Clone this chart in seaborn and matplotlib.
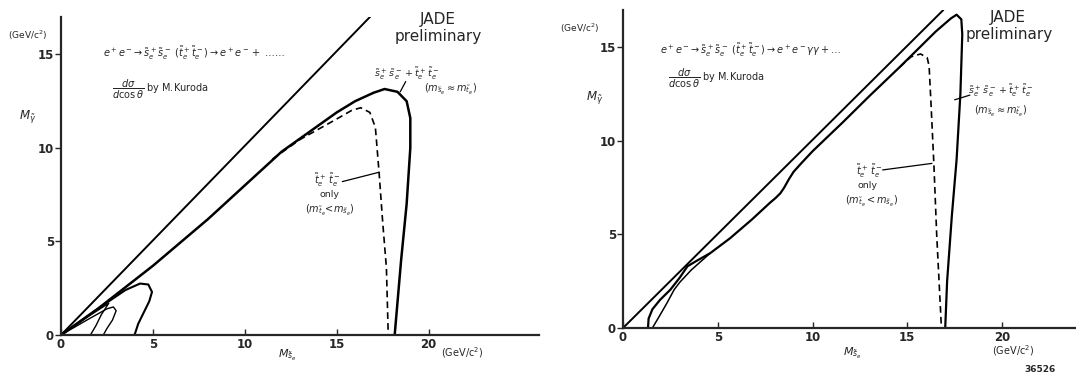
import matplotlib
matplotlib.use("Agg")
import matplotlib.pyplot as plt
import seaborn as sns
import pandas as pd

# ---- left panel curves ----
left_diag_x = [0, 17.0]
left_diag_y = [0, 17.2]

left_main_x = [0, 2, 5, 8, 10, 12, 14, 15, 16, 17, 17.6, 18.3, 18.8, 19.0, 19.0, 18.8, 18.5, 18.15]
left_main_y = [0, 1.4, 3.7, 6.2, 8.0, 9.8, 11.2, 11.9, 12.5, 12.95, 13.15, 13.0, 12.5, 11.6, 10.0, 7.0, 4.0, 0]

left_dash_x = [11.5, 12, 13, 14, 15, 15.8, 16.3, 16.8, 17.1, 17.3, 17.5, 17.7, 17.8]
left_dash_y = [9.4, 9.75, 10.45, 11.0, 11.55, 12.0, 12.15, 11.9, 11.1, 8.7, 6.0, 3.6, 0]

loop1_x = [0, 2, 3.5, 4.3, 4.75, 4.95, 4.8, 4.5, 4.2, 4.0]
loop1_y = [0, 1.4, 2.4, 2.75, 2.7, 2.3, 1.8, 1.2, 0.6, 0]
loop2_x = [0, 1.5, 2.5, 2.85, 3.0, 2.8, 2.5, 2.3]
loop2_y = [0, 0.85, 1.4, 1.5, 1.3, 0.8, 0.35, 0]
loop3_x = [0, 1.5, 2.6, 2.2, 1.9, 1.6]
loop3_y = [0, 1.0, 1.7, 1.1, 0.5, 0]

# ---- right panel curves ----
right_diag_x = [0, 16.9]
right_diag_y = [0, 17.0]

right_main_x = [1.32, 1.35, 1.55, 1.95, 2.5, 3.0, 3.4, 3.9, 4.6, 5.65, 6.8, 7.76, 8.05, 8.3, 8.5, 8.75,
                9.0, 9.4, 10, 11.6, 13, 14.6, 15, 16.5, 17.3, 17.6, 17.85, 17.9, 17.8, 17.6, 17.35, 17.1, 17.0]
right_main_y = [0, 0.5, 1.0, 1.5, 2.05, 2.7, 3.3, 3.6, 4.0, 4.8, 5.8, 6.7, 6.95, 7.2, 7.5, 7.95,
                8.35, 8.8, 9.45, 11.0, 12.4, 13.95, 14.35, 15.85, 16.55, 16.75, 16.5, 15.7, 12.5, 9.0, 6.0, 2.5, 0]

right_low_x = [1.55, 1.9, 2.3, 2.7, 3.0, 3.6, 4.6]
right_low_y = [0, 0.6, 1.3, 2.05, 2.45, 3.1, 4.0]

right_dash_x = [14.6, 15.2, 15.7, 16.05, 16.15, 16.25, 16.4, 16.55, 16.7, 16.8]
right_dash_y = [13.95, 14.5, 14.65, 14.45, 14.0, 12.0, 8.8, 5.0, 2.0, 0]

x_ticks = [0, 5, 10, 15, 20]
y_ticks = [0, 5, 10, 15]

sns.set_style("ticks")
plt.rcParams["font.family"] = ["DejaVu Sans"]

fig = plt.figure(figsize=(10.76, 3.76), dpi=100)
ax1 = fig.add_axes([61 / 1076, 41 / 376, 478 / 1076, 318 / 376])
ax2 = fig.add_axes([623 / 1076, 48 / 376, 453 / 1076, 318 / 376])


def curve(ax, xs, ys, lw=1.6, dashed=False):
    df = pd.DataFrame({"x": xs, "y": ys})
    line = sns.lineplot(data=df, x="x", y="y", sort=False, estimator=None,
                        color="black", lw=lw, ax=ax)
    if dashed:
        line.lines[-1].set_dashes((4, 2.5))


# left panel
curve(ax1, left_diag_x, left_diag_y, 1.4)
curve(ax1, left_main_x, left_main_y, 1.8)
curve(ax1, left_dash_x, left_dash_y, 1.2, dashed=True)
curve(ax1, loop1_x, loop1_y, 1.5)
curve(ax1, loop2_x, loop2_y, 1.0)
curve(ax1, loop3_x, loop3_y, 1.0)

# right panel
curve(ax2, right_diag_x, right_diag_y, 1.4)
curve(ax2, right_main_x, right_main_y, 1.6)
curve(ax2, right_low_x, right_low_y, 1.1)
curve(ax2, right_dash_x, right_dash_y, 1.2, dashed=True)

for ax, xmax in [(ax1, 26), (ax2, 23.9)]:
    ax.set_xlim(0, xmax)
    ax.set_ylim(0, 17)
    ax.set_xticks(x_ticks)
    ax.set_yticks(y_ticks)
    ax.set_xlabel("")
    ax.set_ylabel("")
    sns.despine(ax=ax)
    for s in ["left", "bottom"]:
        ax.spines[s].set_linewidth(1.6)
    ax.tick_params(axis="x", direction="in", length=4, width=1, labelsize=8.5, pad=2)
    ax.tick_params(axis="y", direction="out", length=4, width=1, labelsize=8.5, pad=1)
    for lab in ax.get_xticklabels() + ax.get_yticklabels():
        lab.set_fontweight("bold")

tt = r"$\tilde{t}_e^+\,\tilde{t}_e^-$"
ss_tt = r"$\tilde{s}_e^+\,\tilde{s}_e^- + \tilde{t}_e^+\,\tilde{t}_e^-$"
dsig = r"$\dfrac{d\sigma}{d\cos\theta}$ by M.Kuroda"

# left panel text
ax1.text(-1.8, 16.0, r"(GeV/c$^2$)", fontsize=6.5, ha="center", va="center", clip_on=False)
ax1.text(-1.8, 11.7, r"$M_{\tilde{\gamma}}$", fontsize=8.5, ha="center", va="center", clip_on=False)
ax1.text(2.3, 15.1, r"$e^+e^-\!\rightarrow \tilde{s}_e^+\tilde{s}_e^-\ (\tilde{t}_e^+\tilde{t}_e^-)\rightarrow e^+e^-+\ \ldots\ldots$",
         fontsize=7, ha="left", va="center")
ax1.text(2.8, 13.1, dsig, fontsize=7, ha="left", va="center")
ax1.text(20.5, 16.85, "JADE", fontsize=11, ha="center", va="center")
ax1.text(20.5, 15.95, "preliminary", fontsize=11, ha="center", va="center")
ax1.text(18.8, 13.95, ss_tt, fontsize=6.8, ha="center", va="center")
ax1.text(21.2, 13.1, r"$(m_{\tilde{s}_e} \approx m_{\tilde{t}_e})$", fontsize=7, ha="center", va="center")
ax1.plot([18.45, 18.75], [13.0, 13.55], color="black", lw=0.9)
ax1.text(14.5, 8.3, tt, fontsize=7, ha="center", va="center")
ax1.text(14.6, 7.5, "only", fontsize=6.8, ha="center", va="center")
ax1.text(14.6, 6.65, r"$(m_{\tilde{t}_e}\!<\!m_{\tilde{s}_e})$", fontsize=7, ha="center", va="center")
ax1.plot([15.3, 17.3], [8.2, 8.7], color="black", lw=0.9)
ax1.text(12.3, -1.1, r"$M_{\tilde{s}_e}$", fontsize=8, ha="center", va="center", clip_on=False)
ax1.text(21.8, -0.95, r"(GeV/c$^2$)", fontsize=7, ha="center", va="center", clip_on=False)

# right panel text
ax2.text(-2.3, 16.0, r"(GeV/c$^2$)", fontsize=6.5, ha="center", va="center", clip_on=False)
ax2.text(-1.5, 12.3, r"$M_{\tilde{\gamma}}$", fontsize=8.5, ha="center", va="center", clip_on=False)
ax2.text(1.95, 14.85, r"$e^+e^-\!\rightarrow \tilde{s}_e^+\tilde{s}_e^-\ (\tilde{t}_e^+\tilde{t}_e^-)\rightarrow e^+e^-\gamma\gamma+\ldots$",
         fontsize=7, ha="left", va="center")
ax2.text(2.4, 13.35, dsig, fontsize=7, ha="left", va="center")
ax2.text(20.3, 16.6, "JADE", fontsize=11, ha="center", va="center")
ax2.text(20.4, 15.7, "preliminary", fontsize=11, ha="center", va="center")
ax2.text(19.95, 12.7, ss_tt, fontsize=6.8, ha="center", va="center")
ax2.text(19.9, 11.6, r"$(m_{\tilde{s}_e} \approx m_{\tilde{t}_e})$", fontsize=7, ha="center", va="center")
ax2.plot([17.5, 18.3], [12.2, 12.45], color="black", lw=0.9)
ax2.text(13.0, 8.4, tt, fontsize=7, ha="center", va="center")
ax2.text(12.9, 7.6, "only", fontsize=6.8, ha="center", va="center")
ax2.text(13.1, 6.75, r"$(m_{\tilde{t}_e}<m_{\tilde{s}_e})$", fontsize=7, ha="center", va="center")
ax2.plot([13.7, 16.3], [8.45, 8.8], color="black", lw=0.9)
ax2.text(12.1, -1.35, r"$M_{\tilde{s}_e}$", fontsize=8, ha="center", va="center", clip_on=False)
ax2.text(20.6, -1.2, r"(GeV/c$^2$)", fontsize=7, ha="center", va="center", clip_on=False)

fig.text(1040 / 1076, 1 - 370 / 376, "36526", fontsize=6.5, fontweight="bold", ha="center", va="center")

fig.savefig("out.png", dpi=100)
